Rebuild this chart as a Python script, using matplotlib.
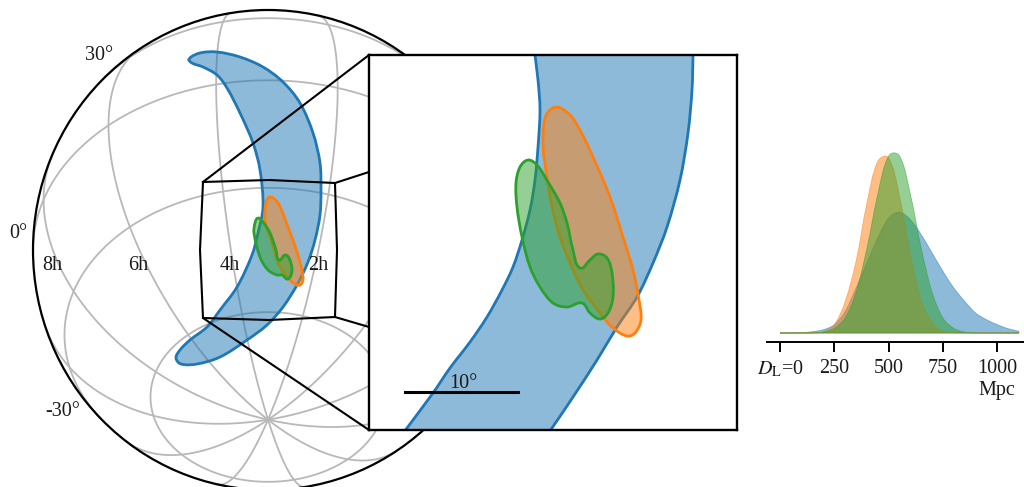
import numpy as np
import matplotlib
matplotlib.use("Agg")
import matplotlib.pyplot as plt
from matplotlib.path import Path
from matplotlib.patches import PathPatch, Ellipse

plt.rcParams['font.family'] = ['Liberation Serif', 'DejaVu Serif']
plt.rcParams['mathtext.fontset'] = 'stix'

W, H = 1024, 487

# outlines, in picture pixels
globe_blue = [(189, 59), (200, 53), (217, 52), (240, 57), (263, 67), (283, 82), (300, 103), (313, 133),
              (320, 163), (321, 190), (320, 215), (315, 240), (308, 262), (297, 285), (283, 307),
              (267, 325), (247, 340), (220, 357), (197, 364), (181, 364), (176, 358), (180, 350),
              (190, 340), (207, 327), (220, 310), (237, 287), (252, 255), (258, 233), (263, 207),
              (260, 170), (253, 143), (240, 113), (227, 88), (217, 75), (203, 67), (192, 63)]
globe_orange = [(270, 197), (278, 203), (288, 227), (297, 252), (303, 277), (300, 285), (292, 282),
                (280, 267), (272, 243), (265, 220), (266, 203)]
globe_green = [(258, 218), (263, 222), (270, 233), (276, 250), (279, 260), (285, 255), (289, 258),
               (292, 270), (288, 279), (282, 275), (277, 275), (268, 270), (260, 257), (254, 233),
               (255, 223)]
box_x = [203, 200, 203, 269, 335, 337, 335, 269, 203]
box_y = [182, 250, 318, 320, 317, 250, 183, 180, 182]
connect_from = [(203, 182), (335, 183), (203, 318), (335, 317)]
connect_to = [(369, 55), (369, 172), (369, 430), (369, 327)]

inset_blue = [(534, 40), (535, 55), (538, 80), (540, 110), (538, 147), (535, 180), (530, 210), (522, 240),
              (513, 267), (502, 290), (487, 317), (470, 342), (450, 368), (433, 393), (407, 428), (395, 445),
              (540, 445), (552, 428), (573, 397), (597, 360), (617, 327), (637, 297), (653, 263),
              (667, 227), (680, 180), (688, 133), (692, 90), (693, 55), (693, 40)]
inset_orange = [(557, 107), (570, 115), (580, 130), (593, 157), (610, 197), (623, 237), (633, 270),
                (639, 300), (641, 320), (635, 333), (627, 336), (613, 328), (600, 313), (583, 290),
                (570, 263), (560, 237), (552, 207), (547, 177), (543, 147), (544, 123), (548, 112)]
inset_green = [(528, 160), (537, 165), (548, 182), (560, 203), (567, 223), (573, 250), (580, 268),
               (590, 260), (598, 254), (607, 258), (612, 273), (613, 297), (608, 313), (600, 319),
               (590, 313), (582, 303), (567, 307), (553, 303), (540, 287), (530, 267), (522, 237),
               (517, 207), (516, 183), (520, 167)]

# distance marginals
dist = [0, 50, 100, 150, 200, 250, 300, 350, 400, 450, 500, 550, 600, 650, 700, 750, 800, 850, 900,
        950, 1000, 1050, 1100]
pdf_blue = [0, 0, 1, 4, 10, 25, 65, 135, 210, 285, 345, 362, 340, 295, 240, 185, 135, 95, 60, 40, 25, 13, 5]
pdf_orange = [0, 0, 0, 1, 4, 25, 95, 215, 390, 515, 525, 410, 235, 98, 31, 7, 1, 0, 0, 0, 0, 0, 0]
pdf_green = [0, 0, 0, 0, 3, 14, 45, 122, 254, 416, 531, 531, 416, 254, 122, 45, 14, 3, 0, 0, 0, 0, 0]
dist_ticks = [0, 250, 500, 750, 1000]
dist_labels = ['$D_{\\mathrm{L}}$=0', '250', '500', '750', '1000']

ra_hours = [0, 2, 4, 6, 8, 10, 12, 14, 16, 18, 20, 22]
dec_lines = [-60, -30, 0, 30, 60]
dec_labels = [("30°", 99, 55), ("0°", 18, 233), ("-30°", 63, 411)]
ra_labels = [("8h", 52, 266), ("6h", 138, 266), ("4h", 230, 266), ("2h", 318, 266)]

BLUE, ORANGE, GREEN = 'tab:blue', 'tab:orange', 'tab:green'
GRAY = '#b8b8b8'
TEXT = '#1a1a1a'
CX, CY, RX, RY = 268, 250, 235, 240
RA0, DEC0 = 3.15, -45.0


def smooth(pts, closed=True):
    # spline through the read points, handles scaled by segment length so uneven spacing does not kink
    p = np.array(pts, float)
    n = len(p)
    tang = np.zeros_like(p)
    for i in range(n):
        a = p[(i - 1) % n] if closed or i > 0 else p[i]
        b = p[(i + 1) % n] if closed or i < n - 1 else p[i]
        tang[i] = (b - a) / max(np.hypot(*(b - a)), 1e-9)
    verts = [p[0]]
    codes = [Path.MOVETO]
    for i in range(n if closed else n - 1):
        j = (i + 1) % n
        d = np.hypot(*(p[j] - p[i])) / 3
        verts += [p[i] + tang[i] * d, p[j] - tang[j] * d, p[j]]
        codes += [Path.CURVE4] * 3
    return Path(verts, codes)


def project(ra_h, dec):
    lam = np.radians((np.asarray(ra_h) - RA0) * 15.0)
    phi = np.radians(dec)
    phi0 = np.radians(DEC0)
    # RA grows to the left
    x = -np.cos(phi) * np.sin(lam)
    y = np.cos(phi0) * np.sin(phi) - np.sin(phi0) * np.cos(phi) * np.cos(lam)
    front = np.sin(phi0) * np.sin(phi) + np.cos(phi0) * np.cos(phi) * np.cos(lam)
    x = np.where(front >= 0, x, np.nan)
    y = np.where(front >= 0, y, np.nan)
    return CX + RX * x, CY - RY * y


def contour(ax, pts, color, lw=2.0):
    ax.add_patch(PathPatch(smooth(pts), facecolor=color, alpha=0.5, edgecolor='none'))
    ax.add_patch(PathPatch(smooth(pts), facecolor='none', edgecolor=color, lw=lw))


fig = plt.figure(figsize=(W / 100, H / 100), dpi=100)

ax = fig.add_axes([0, 0, 1, 1])
ax.set_xlim(0, W)
ax.set_ylim(H, 0)
ax.axis('off')

for dec in dec_lines:
    ras = np.linspace(0, 24, 361)
    x, y = project(ras, np.full_like(ras, dec))
    ax.plot(x, y, color=GRAY, lw=1.3, zorder=1)
for ra in ra_hours:
    decs = np.linspace(-90, 90, 181)
    x, y = project(np.full_like(decs, ra), decs)
    ax.plot(x, y, color=GRAY, lw=1.3, zorder=1)

ax.add_patch(Ellipse((CX, CY), 2 * RX, 2 * RY, facecolor='none', edgecolor='black', lw=1.6, zorder=2))

contour(ax, globe_blue, BLUE)
contour(ax, globe_orange, ORANGE)
contour(ax, globe_green, GREEN)

ax.plot(box_x, box_y, color='black', lw=1.5, zorder=5)
for a, b in zip(connect_from, connect_to):
    ax.plot([a[0], b[0]], [a[1], b[1]], color='black', lw=1.5, zorder=5)

for s, x, y in dec_labels + ra_labels:
    ax.text(x, y, s, fontsize=14.5, ha='center', va='center', color=TEXT, zorder=6)

# zoomed panel
axin = fig.add_axes([369 / W, 1 - 430 / H, (737 - 369) / W, (430 - 55) / H])
axin.set_xlim(369, 737)
axin.set_ylim(430, 55)
axin.set_xticks([])
axin.set_yticks([])
for s in axin.spines.values():
    s.set_linewidth(1.7)
contour(axin, inset_blue, BLUE)
contour(axin, inset_orange, ORANGE)
contour(axin, inset_green, GREEN)
axin.plot([405, 518], [392, 392], color='black', lw=2.2)
axin.text(463, 383, "10°", fontsize=14.5, ha='center', va='center', color=TEXT)

# distance panel
axd = fig.add_axes([767 / W, 1 - 342 / H, (W - 767) / W, (342 - 140) / H])
axd.set_xlim(-60, 1123)
axd.set_ylim(-27, 579)
axd.patch.set_alpha(0)
for d, color in [(pdf_blue, BLUE), (pdf_orange, ORANGE), (pdf_green, GREEN)]:
    p = smooth(list(zip(dist, d)), closed=False)
    verts = np.vstack([p.vertices, [dist[-1], 0], [dist[0], 0], [dist[0], 0]])
    codes = list(p.codes) + [Path.LINETO, Path.LINETO, Path.CLOSEPOLY]
    axd.add_patch(PathPatch(Path(verts, codes), facecolor=color, edgecolor=color, alpha=0.5, lw=0.6))
for name in ['top', 'left', 'right']:
    axd.spines[name].set_visible(False)
axd.spines['bottom'].set_linewidth(1.4)
axd.set_yticks([])
axd.set_xticks(dist_ticks)
axd.set_xticklabels(dist_labels, fontsize=14.5, color=TEXT)
axd.tick_params(axis='x', length=7, width=1.4, pad=5)
axd.text(1000, -171, "Mpc", fontsize=14.5, ha='center', va='center', color=TEXT, clip_on=False)

fig.savefig('out.png', dpi=100)
